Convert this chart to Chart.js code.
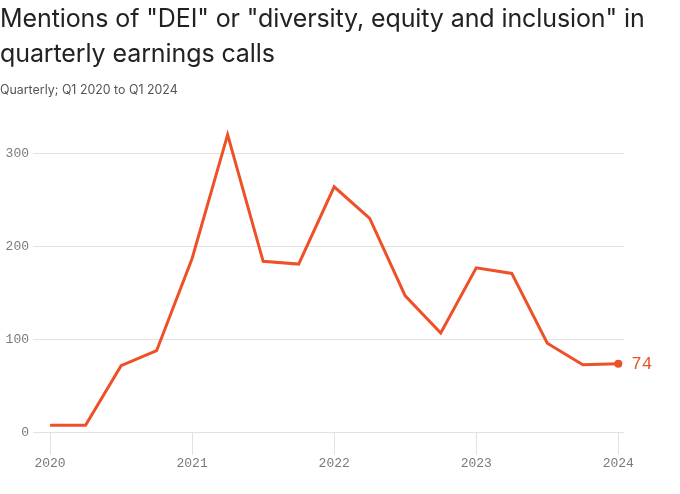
<!DOCTYPE html>
<html>
<head>
<meta charset="utf-8">
<script src="https://cdn.jsdelivr.net/npm/chart.js@4"></script>
<style>
  html, body { margin: 0; padding: 0; background: #fff; width: 680px; height: 494px; overflow: hidden; }
  #title { position: absolute; left: 0; top: 1px; width: 680px; font-family: Inter, "Noto Sans", sans-serif; font-size: 25px; line-height: 35px; color: #222; letter-spacing: -0.1px; }
  #subtitle { position: absolute; left: 0; top: 83px; font-family: Inter, "Noto Sans", sans-serif; font-size: 12.4px; line-height: 14px; color: #555; }
  #wrap { position: absolute; left: 0; top: 0; width: 680px; height: 494px; }
</style>
</head>
<body>
<div id="wrap"><canvas id="c"></canvas></div>
<div id="title">Mentions of "DEI" or "diversity, equity and inclusion" in<br>quarterly earnings calls</div>
<div id="subtitle">Quarterly; Q1 2020 to Q1 2024</div>
<script>
const quarters = ["Q1 2020","Q2 2020","Q3 2020","Q4 2020","Q1 2021","Q2 2021","Q3 2021","Q4 2021","Q1 2022","Q2 2022","Q3 2022","Q4 2022","Q1 2023","Q2 2023","Q3 2023","Q4 2023","Q1 2024"];
const mentions = [8, 8, 72, 88, 187, 320, 184, 181, 264, 230, 147, 107, 177, 171, 96, 73, 74];
const yearTicks = [2020, 2021, 2022, 2023, 2024];
const yTicks = [0, 100, 200, 300];

const LINE = '#ee5128';
const GRID = '#e2e2e2';
const MONO = '"Liberation Mono", "DejaVu Sans Mono", monospace';

function quarterToX(q) {
  const parts = q.split(' ');
  return parseInt(parts[1], 10) + (parseInt(parts[0].slice(1), 10) - 1) / 4;
}
const points = quarters.map((q, i) => ({ x: quarterToX(q), y: mentions[i] }));
const last = points.length - 1;

const endLabel = {
  id: 'endLabel',
  afterDatasetsDraw(chart) {
    const el = chart.getDatasetMeta(0).data[last];
    const ctx = chart.ctx;
    ctx.save();
    ctx.font = '17.5px ' + MONO;
    ctx.fillStyle = LINE;
    ctx.textAlign = 'left';
    ctx.textBaseline = 'middle';
    ctx.fillText(String(mentions[last]), el.x + 13, el.y + 1);
    ctx.restore();
  }
};

new Chart(document.getElementById('c'), {
  type: 'line',
  data: {
    datasets: [{
      data: points,
      borderColor: LINE,
      backgroundColor: LINE,
      borderWidth: 3,
      tension: 0,
      pointRadius: ctx => ctx.dataIndex === last ? 4 : 0,
      pointHoverRadius: 0,
      pointBorderWidth: 0
    }]
  },
  options: {
    responsive: true,
    maintainAspectRatio: false,
    animation: false,
    events: [],
    layout: { padding: { top: 116, right: 56, left: 0, bottom: 0 } },
    plugins: { legend: { display: false }, tooltip: { enabled: false }, title: { display: false } },
    scales: {
      x: {
        type: 'linear',
        min: 2019.88,
        max: 2024.04,
        afterBuildTicks: s => { s.ticks = yearTicks.map(v => ({ value: v })); },
        afterFit: s => { s.height = 61.3; },
        grid: { drawOnChartArea: false, drawTicks: true, tickLength: 22, color: GRID, lineWidth: 1 },
        border: { display: false },
        ticks: { font: { family: MONO, size: 13 }, color: '#7a7a7a', padding: 1, maxRotation: 0, callback: v => String(v) }
      },
      y: {
        min: 0,
        max: 340,
        afterBuildTicks: s => { s.ticks = yTicks.map(v => ({ value: v })); },
        afterFit: s => { s.width = 33; },
        grid: { drawTicks: false, color: GRID, lineWidth: 1 },
        border: { display: false },
        ticks: { font: { family: MONO, size: 13 }, color: '#7a7a7a', padding: 4, callback: v => String(v) }
      }
    }
  },
  plugins: [endLabel]
});
</script>
</body>
</html>
